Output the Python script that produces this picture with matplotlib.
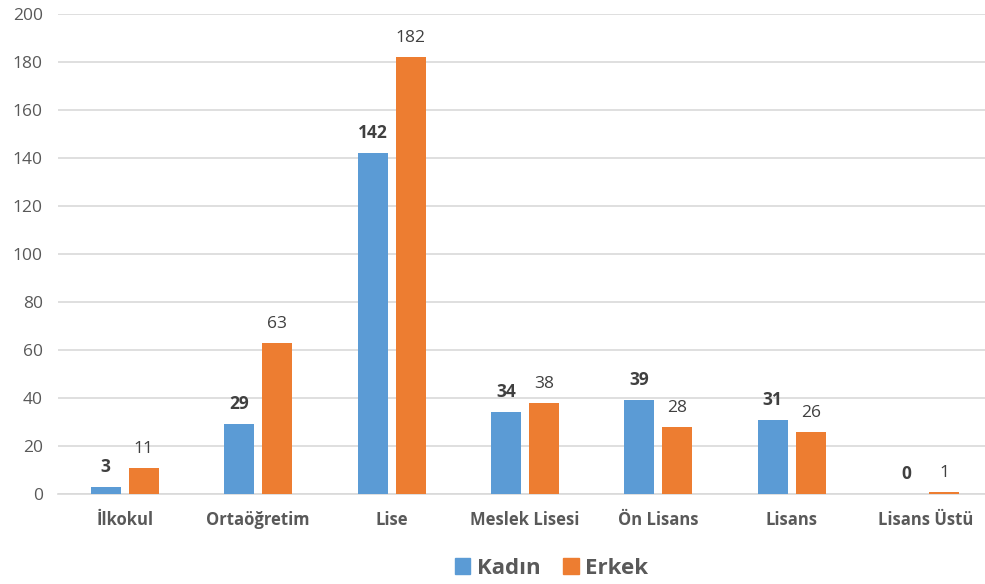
import numpy as np
import matplotlib.pyplot as plt
from matplotlib.patches import Patch

categories = ["İlkokul", "Ortaöğretim", "Lise", "Meslek Lisesi", "Ön Lisans", "Lisans", "Lisans Üstü"]
kadin = [3, 29, 142, 34, 39, 31, 0]
erkek = [11, 63, 182, 38, 28, 26, 1]

plt.rcParams['font.family'] = ['Open Sans', 'DejaVu Sans']

fig = plt.figure(figsize=(9.85, 5.84), dpi=100)
ax = fig.add_axes([0.059, 0.154, 0.948, 0.822])

x = np.arange(len(categories))
w = 0.225
gap = 0.06
b1 = ax.bar(x - (w + gap) / 2, kadin, w, color="#5B9BD5", zorder=3)
b2 = ax.bar(x + (w + gap) / 2, erkek, w, color="#ED7D31", zorder=3)

for rect, v in zip(b1, kadin):
    ax.annotate(str(v), (rect.get_x() + rect.get_width() / 2, v), xytext=(0, 8),
                textcoords="offset points", ha="center", va="bottom",
                fontsize=12.5, fontweight="bold", color="#404040")
for rect, v in zip(b2, erkek):
    ax.annotate(str(v), (rect.get_x() + rect.get_width() / 2, v), xytext=(0, 8),
                textcoords="offset points", ha="center", va="bottom",
                fontsize=12.5, color="#404040")

ax.set_xlim(-0.5, len(categories) - 0.5)
ax.set_ylim(0, 200)
ax.set_yticks(range(0, 201, 20))
ax.yaxis.grid(True, color="#D9D9D9", linewidth=1.2, zorder=0)
ax.set_xticks(x)
ax.set_xticklabels(categories, fontsize=12, fontweight="bold", color="#595959")
ax.tick_params(axis="y", labelsize=12.5, labelcolor="#595959", length=0, pad=11)
ax.tick_params(axis="x", length=0, pad=12)
for s in ["top", "right", "left"]:
    ax.spines[s].set_visible(False)
ax.spines["bottom"].set_color("#D9D9D9")
ax.spines["bottom"].set_linewidth(1.2)

handles = [Patch(color="#5B9BD5", label="Kadın"), Patch(color="#ED7D31", label="Erkek")]
leg = fig.legend(handles=handles, loc="center", bbox_to_anchor=(0.56, 0.027), ncol=2,
                 frameon=False, handlelength=0.7, handleheight=0.7, columnspacing=1.0,
                 handletextpad=0.3, prop={"size": 16, "weight": "bold"})
for t in leg.get_texts():
    t.set_color("#595959")

fig.savefig("out.png", dpi=100)
